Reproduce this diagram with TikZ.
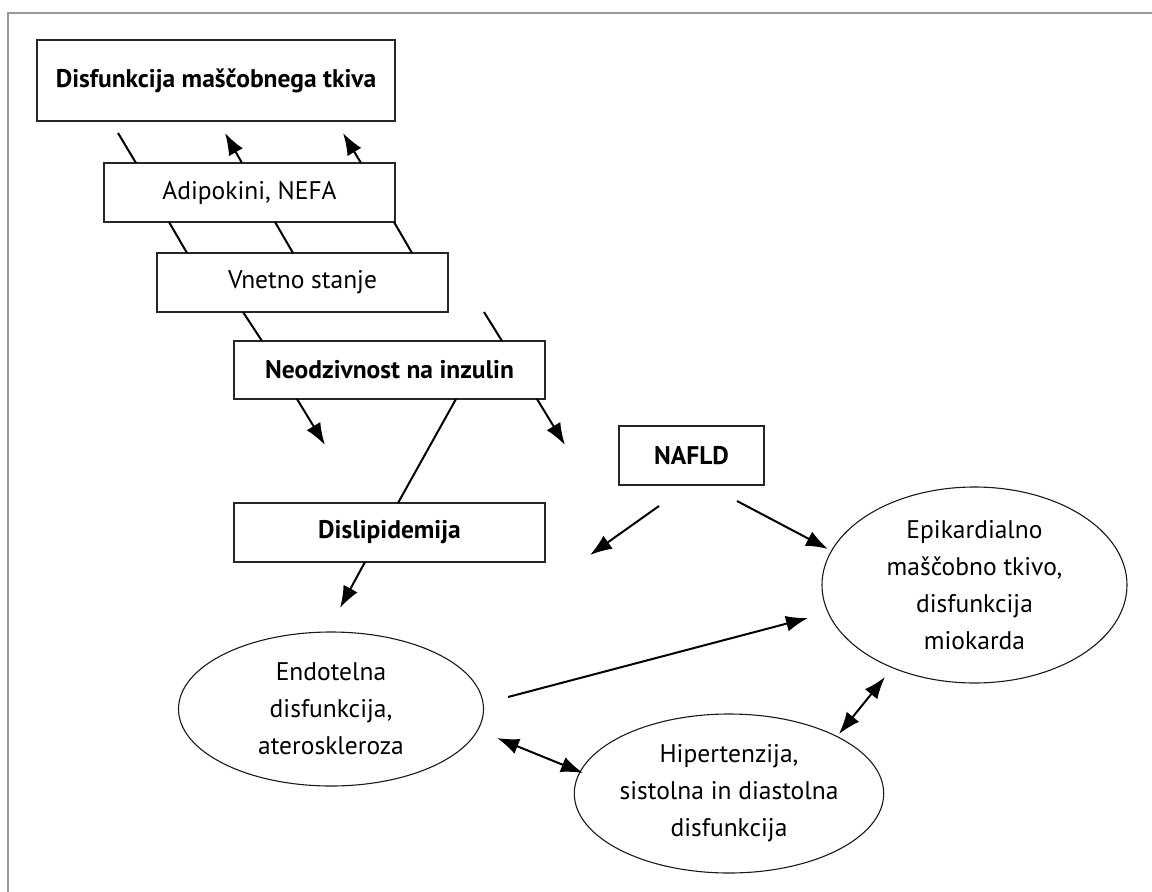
\documentclass[tikz,border=0pt]{standalone}
\usepackage{fontspec}
\setmainfont{PT Sans}
\usetikzlibrary{arrows.meta,shapes.geometric}
\tikzset{
  box/.style={draw=black!85, line width=1.4pt, rectangle, inner sep=0pt, align=center, font=\fontsize{25.5}{37}\selectfont},
  oval/.style={draw=black!90, line width=1.1pt, ellipse, inner sep=0pt, align=center, font=\fontsize{25.5}{37}\selectfont},
  conn/.style={line width=2pt, black},
  tip/.style={},
  arr/.style={conn, -{Latex[length=22pt,width=16pt]}},
  darr/.style={conn, {Latex[length=22pt,width=16pt]}-{Latex[length=22pt,width=16pt]}},
  frame/.style={draw=black!40, line width=1.6pt}
}
\begin{document}
\begin{tikzpicture}[x=1pt,y=-1pt]
\useasboundingbox (0,0) rectangle (1152,892);
\draw[frame] (1152,13) -- (8,13) -- (8,892);

\node[box, minimum width=358pt, minimum height=81pt] (b1) at (216,80.5) {\bfseries Disfunkcija maščobnega tkiva};
\node[box, minimum width=291pt, minimum height=59pt] (b2) at (249.5,192.5) {Adipokini, NEFA};
\node[box, minimum width=291pt, minimum height=59pt] (b3) at (302.5,282.5) {Vnetno stanje};
\node[box, minimum width=311pt, minimum height=58pt] (b4) at (389.5,370) {\bfseries Neodzivnost na inzulin};
\node[box, minimum width=311pt, minimum height=59pt] (b5) at (389.5,532.5) {\bfseries Dislipidemija};
\node[box, minimum width=145pt, minimum height=59pt] (nafld) at (691.5,455.5) {\bfseries NAFLD};

\node[oval, minimum width=305pt, minimum height=154pt] (endo) at (331,709) {Endotelna\\disfunkcija,\\ateroskleroza};
\node[oval, minimum width=305pt, minimum height=196pt] (epi) at (974.5,585) {Epikardialno\\maščobno tkivo,\\disfunkcija\\miokarda};
\node[oval, minimum width=280pt, minimum height=159pt] (hip) at (729,793.5) {Hipertenzija,\\sistolna in diastolna\\disfunkcija};

% free ends
\coordinate (a1s) at (118,133);
\coordinate (a1e) at (136,163);
\coordinate (a2s) at (242,163);
\coordinate (a2e) at (225,133);
\coordinate (a3s) at (361,163);
\coordinate (a3e) at (343,133);
\coordinate (c1s) at (169,222); \coordinate (c1e) at (187,253);
\coordinate (c2s) at (275,222); \coordinate (c2e) at (293,253);
\coordinate (c3s) at (394,222); \coordinate (c3e) at (412,253);
\coordinate (d1s) at (243,312); \coordinate (d1e) at (262,341);
\coordinate (d2s) at (484,312); \coordinate (d2e) at (502,341);
\coordinate (e1s) at (297,399); \coordinate (e1e) at (325,445);
\coordinate (e2s) at (537,399); \coordinate (e2e) at (565,445);
\coordinate (f1s) at (456,399); \coordinate (f1e) at (398,503);
\coordinate (g1s) at (365,562); \coordinate (g1e) at (340,608);
\coordinate (n1s) at (659,506); \coordinate (n1e) at (590,555);
\coordinate (n2s) at (737,501); \coordinate (n2e) at (828,549);
\coordinate (p1s) at (508,697); \coordinate (p1e) at (808,618);
\coordinate (q1s) at (497,738); \coordinate (q1e) at (583,773);
\coordinate (r1s) at (885,677); \coordinate (r1e) at (839,734);

\draw[conn] (a1s) -- (a1e);
\draw[arr] (a2s) -- (a2e);
\draw[arr] (a3s) -- (a3e);
\draw[conn] (c1s) -- (c1e);
\draw[conn] (c2s) -- (c2e);
\draw[conn] (c3s) -- (c3e);
\draw[conn] (d1s) -- (d1e);
\draw[conn] (d2s) -- (d2e);
\draw[arr] (e1s) -- (e1e);
\draw[arr] (e2s) -- (e2e);
\draw[conn] (f1s) -- (f1e);
\draw[arr] (g1s) -- (g1e);
\draw[arr] (n1s) -- (n1e);
\draw[arr] (n2s) -- (n2e);
\draw[arr] (p1s) -- (p1e);
\draw[darr] (q1s) -- (q1e);
\draw[darr] (r1s) -- (r1e);
\end{tikzpicture}
\end{document}
